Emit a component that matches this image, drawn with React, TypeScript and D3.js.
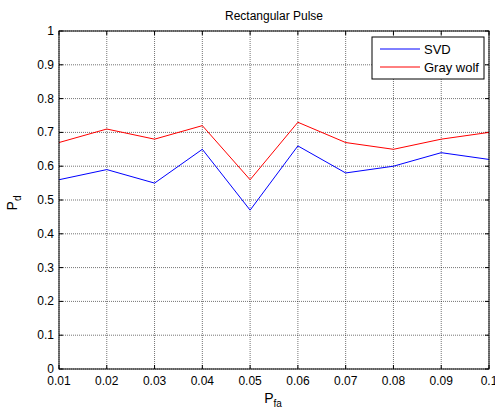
import React from "react";
import * as d3 from "d3";

const pfa = [0.01, 0.02, 0.03, 0.04, 0.05, 0.06, 0.07, 0.08, 0.09, 0.1];
const svdValues = [0.56, 0.59, 0.55, 0.65, 0.47, 0.66, 0.58, 0.6, 0.64, 0.62];
const grayWolfValues = [0.67, 0.71, 0.68, 0.72, 0.56, 0.73, 0.67, 0.65, 0.68, 0.7];
const xTicks = [0.01, 0.02, 0.03, 0.04, 0.05, 0.06, 0.07, 0.08, 0.09, 0.1];
const xTickLabels = ["0.01", "0.02", "0.03", "0.04", "0.05", "0.06", "0.07", "0.08", "0.09", "0.1"];
const yTicks = [0, 0.1, 0.2, 0.3, 0.4, 0.5, 0.6, 0.7, 0.8, 0.9, 1];
const yTickLabels = ["0", "0.1", "0.2", "0.3", "0.4", "0.5", "0.6", "0.7", "0.8", "0.9", "1"];
const seriesNames = ["SVD", "Gray wolf"];
const seriesColors = ["#0000ff", "#ff0000"];

export default function App() {
  const W = 495, H = 407;
  const L = 59, R = 489, T = 31, B = 369;
  const x = d3.scaleLinear().domain([0.01, 0.1]).range([L, R]);
  const y = d3.scaleLinear().domain([0, 1]).range([B, T]);
  const line = d3.line<number>().x((_, i) => x(pfa[i])).y((d) => y(d));
  const series = [svdValues, grayWolfValues];
  const font = "Arial, 'Liberation Sans', Helvetica, sans-serif";
  const tick = 4;
  return (
    <svg width={W} height={H} style={{ position: "absolute", left: 0, top: 0, background: "#fff" }} fontFamily={font}>
      <rect x={0} y={0} width={W} height={H} fill="#fff" />
      {/* grid */}
      {xTicks.map((t, i) => (
        <line key={"gx" + i} x1={x(t)} x2={x(t)} y1={T} y2={B} stroke="#000" strokeOpacity={0.55} strokeWidth={1} strokeDasharray="1,1" />
      ))}
      {yTicks.map((t, i) => (
        <line key={"gy" + i} x1={L} x2={R} y1={y(t)} y2={y(t)} stroke="#000" strokeOpacity={0.55} strokeWidth={1} strokeDasharray="1,1" />
      ))}
      {/* ticks */}
      {xTicks.map((t, i) => (
        <g key={"tx" + i}>
          <line x1={x(t)} x2={x(t)} y1={B} y2={B - tick} stroke="#000" />
          <line x1={x(t)} x2={x(t)} y1={T} y2={T + tick} stroke="#000" />
          <text x={x(t)} y={385} fontSize={12} textAnchor="middle" fill="#000">{xTickLabels[i]}</text>
        </g>
      ))}
      {yTicks.map((t, i) => (
        <g key={"ty" + i}>
          <line x1={L} x2={L + tick} y1={y(t)} y2={y(t)} stroke="#000" />
          <line x1={R} x2={R - tick} y1={y(t)} y2={y(t)} stroke="#000" />
          <text x={54} y={y(t) + 4} fontSize={12} textAnchor="end" fill="#000">{yTickLabels[i]}</text>
        </g>
      ))}
      {/* lines */}
      {series.map((s, i) => (
        <path key={"s" + i} d={line(s) || ""} fill="none" stroke={seriesColors[i]} strokeWidth={1} />
      ))}
      {/* axes box */}
      <rect x={L} y={T} width={R - L} height={B - T} fill="none" stroke="#000" strokeWidth={1} />
      {/* title */}
      <text x={(L + R) / 2} y={20} fontSize={12} textAnchor="middle" fill="#000">Rectangular Pulse</text>
      {/* x label */}
      <text x={273} y={403} fontSize={14} textAnchor="middle" fill="#000">
        P<tspan fontSize={10} dy={4}>fa</tspan>
      </text>
      {/* y label */}
      <text transform={`translate(17,${203}) rotate(-90)`} fontSize={14} textAnchor="middle" fill="#000">
        P<tspan fontSize={10} dy={4}>d</tspan>
      </text>
      {/* legend */}
      <rect x={372} y={37} width={112} height={42} fill="#fff" stroke="#000" strokeWidth={1} />
      {seriesNames.map((n, i) => (
        <g key={"lg" + i}>
          <line x1={380} x2={420} y1={49 + i * 18} y2={49 + i * 18} stroke={seriesColors[i]} strokeWidth={1} />
          <text x={424} y={49 + i * 18 + 5} fontSize={13} fill="#000">{n}</text>
        </g>
      ))}
    </svg>
  );
}
